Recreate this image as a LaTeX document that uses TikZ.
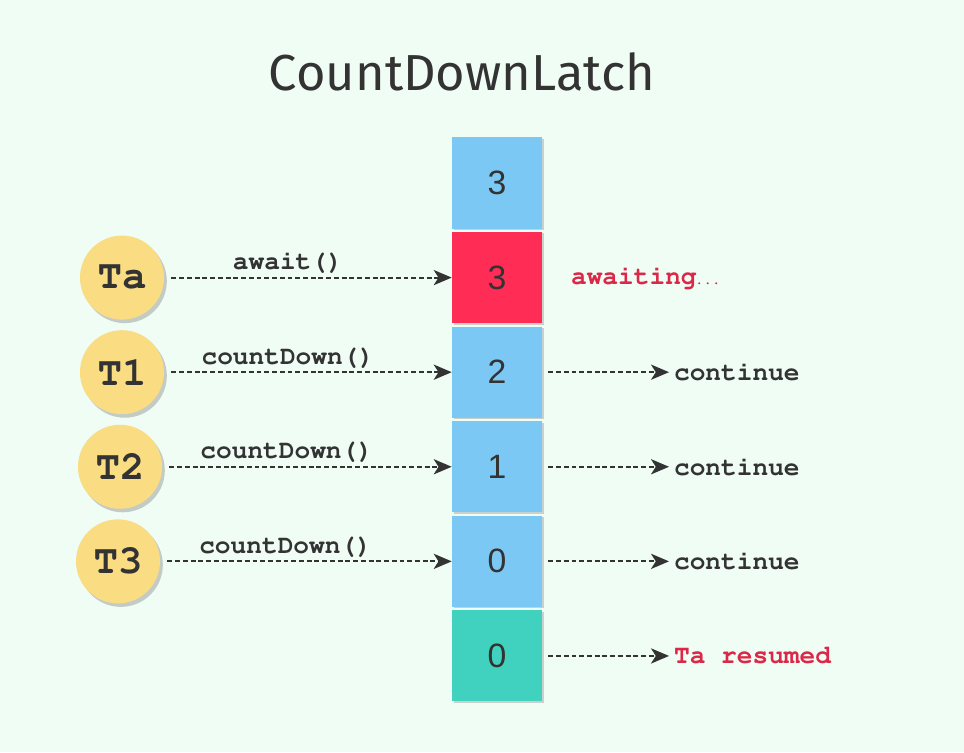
\documentclass[tikz,border=0pt]{standalone}
\usepackage{fontspec}
\setmainfont{Liberation Sans}
\setmonofont{Liberation Mono}
\newfontfamily\titlefont{Fira Sans}
\newcommand{\courierbold}{\fontencoding{T1}\fontfamily{pcr}\fontseries{b}\selectfont}
\usepackage{xcolor}
\usetikzlibrary{arrows.meta, shadows, positioning}

\definecolor{bgmint}{HTML}{F0FDF5}
\definecolor{cellblue}{HTML}{7CC8F5}
\definecolor{cellred}{HTML}{FF2D55}
\definecolor{cellteal}{HTML}{40D2BE}
\definecolor{thryellow}{HTML}{FADC82}
\definecolor{inkgray}{HTML}{333333}
\definecolor{alertred}{HTML}{DC2848}

\tikzset{
	cell/.style = {minimum width = 2.25cm, minimum height = 2.275cm, inner sep = 0pt,
		text = inkgray, font = \fontsize{24}{24}\selectfont,
		drop shadow = {shadow xshift = 1.5pt, shadow yshift = -1pt, opacity = .35}},
	thread/.style = {circle, fill = thryellow, minimum size = 2.1cm, inner sep = 0pt,
		text = inkgray, font = \courierbold\fontsize{29}{29}\selectfont,
		drop shadow = {shadow xshift = 2pt, shadow yshift = -2.5pt, opacity = .4}},
	call/.style = {text = inkgray, font = \courierbold\fontsize{18.6}{18.6}\selectfont, inner sep = 2pt},
	flow/.style = {draw = inkgray, line width = 1.3pt, dash pattern = on 3.5pt off 2pt,
		-{Stealth[length = 4.5mm, width = 3.8mm, inset = 1.2mm]}}
}

\begin{document}
\begin{tikzpicture}[x = 0.025cm, y = -0.025cm]
			\def\cellX{497};
			\def\resX{671};

			% background and page size
			\fill [bgmint] (0,0) rectangle (964,752);
			\useasboundingbox (0,0) rectangle (964,752);

			\node [text = inkgray, font = \titlefont\fontsize{36}{36}\selectfont] (title) at (462,72) {CountDownLatch};

			% the latch column
			\node [cell, fill = cellblue] (c0) at (\cellX,183) {3};
			\node [cell, fill = cellred, below = 0.075cm of c0] (c1) {3};
			\node [cell, fill = cellblue, below = 0.075cm of c1] (c2) {2};
			\node [cell, fill = cellblue, below = 0.075cm of c2] (c3) {1};
			\node [cell, fill = cellblue, below = 0.075cm of c3] (c4) {0};
			\node [cell, fill = cellteal, below = 0.075cm of c4] (c5) {0};

			% threads calling the latch
			\foreach \name/\lbl/\x/\call [count = \i] in {ta/Ta/122/await(), t1/T1/122/countDown(), t2/T2/120/countDown(), t3/T3/118/countDown()}
			{
				\node [thread] (\name) at (\x,0 |- c\i) {\lbl};
				\draw [flow, shorten <= 0.18cm] (\name) -- (c\i) node [call, pos = 0.43, above = 1pt] {\call};
			}

			% what happens afterwards
			\node [call, text = alertred, anchor = west] (wait) at (568,0 |- c1) {awaiting\kern-1pt{\fontsize{10}{10}\selectfont...}};

			\foreach \j/\txt/\col in {2/continue/inkgray, 3/continue/inkgray, 4/continue/inkgray, 5/Ta resumed/alertred}
			{
				\node [call, text = \col, anchor = west] (r\j) at (\resX,0 |- c\j) {\txt};
				\draw [flow, shorten <= 0.15cm, shorten >= 0.05cm] (c\j) -- (c\j -| r\j.west);
			}
		\end{tikzpicture}
\end{document}
